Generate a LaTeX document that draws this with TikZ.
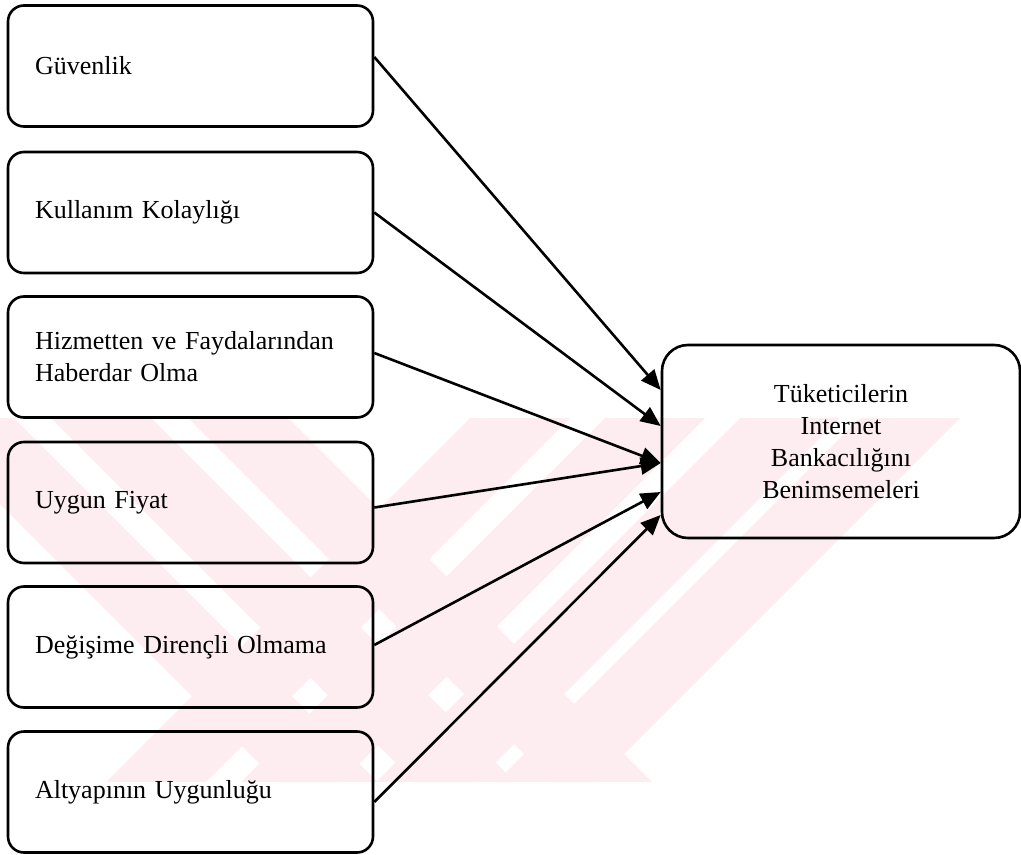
\documentclass[tikz,border=0pt]{standalone}
\usepackage{fontspec}
\setmainfont{Liberation Serif}
\usetikzlibrary{arrows.meta}
\definecolor{filigran}{RGB}{253,236,240}
\tikzset{
  kutu/.style={draw,line width=1.3pt,rounded corners=8pt,
    minimum width=182.5pt,minimum height=60.5pt,text width=155.5pt,
    inner xsep=13.5pt,align=left,font=\fontsize{13}{16}\selectfont},
  hedef/.style={draw,line width=1.3pt,rounded corners=13pt,
    minimum width=179pt,minimum height=96.5pt,align=center,
    font=\fontsize{13}{16}\selectfont},
  ok/.style={line width=1.3pt,-{Triangle[length=10pt,width=8.5pt]}}
}
\begin{document}
\begin{tikzpicture}[x=0.5pt,y=-0.5pt]
   \useasboundingbox (0,0) rectangle (1021,855);
   % filigran
   \begin{scope}
   \clip (0,418) rectangle (1021,782);
   \foreach \a in {-86,51,188}
     \fill[filigran] (\a,418) -- ++(100,0) -- ++(364,364) -- ++(-100,0) -- cycle;
   \foreach \b in {470,605,740,860}
     \fill[filigran] (\b,418) -- ++(100,0) -- ++(-364,364) -- ++(-100,0) -- cycle;
   \end{scope}
   %
   \node[kutu] (guv) at (190.5,66) {Güvenlik};
   \node[kutu] (kul) at (190.5,212.5) {Kullanım Kolaylığı};
   \node[kutu] (hiz) at (190.5,357) {Hizmetten ve Faydalarından\\Haberdar Olma};
   \node[kutu] (uyg) at (190.5,502.5) {Uygun Fiyat};
   \node[kutu] (deg) at (190.5,647) {Değişime Dirençli Olmama};
   \node[kutu] (alt) at (190.5,792) {Altyapının Uygunluğu};
   \node[hedef] (tuk) at (841,441.5) {Tüketicilerin\\Internet\\Bankacılığını\\Benimsemeleri};
   % oklar
   \draw[ok] ([yshift=4.5pt]guv.east) -- ([yshift=25.75pt]tuk.west);
   \draw[ok] (kul.east) -- ([yshift=7.75pt]tuk.west);
   \draw[ok] ([yshift=2pt]hiz.east) -- ([yshift=-10.75pt]tuk.west);
   \draw[ok] ([yshift=-2.5pt]uyg.east) -- ([yshift=-10.75pt]tuk.west);
   \draw[ok] ([yshift=1pt]deg.east) -- ([yshift=-25.25pt]tuk.west);
   \draw[ok] ([yshift=-5pt]alt.east) -- ([yshift=-36.75pt]tuk.west);
\end{tikzpicture}
\end{document}
